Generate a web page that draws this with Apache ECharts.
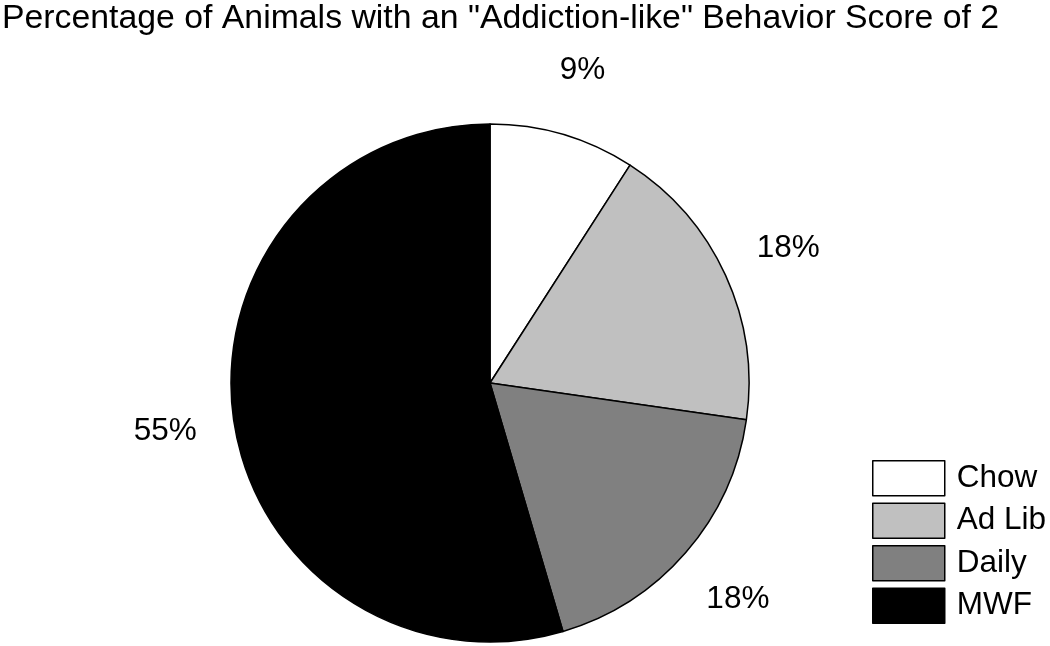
<!DOCTYPE html>
<html>
<head>
<meta charset="utf-8">
<script src="https://cdn.jsdelivr.net/npm/echarts@6/dist/echarts.min.js"></script>
<style>html,body{margin:0;padding:0;background:#fff}#chart{width:1050px;height:646px}</style>
</head>
<body>
<div id="chart"></div>
<script>
var titleText = 'Percentage of Animals with an "Addiction-like" Behavior Score of 2';
var categories = ['Chow', 'Ad Lib', 'Daily', 'MWF'];
var values = [1, 2, 2, 6];
var colors = ['#ffffff', '#c0c0c0', '#808080', '#000000'];

var FONT = '"Liberation Sans", Arial, sans-serif';
var pieData = categories.map(function (c, i) {
  return { name: c, value: values[i], itemStyle: { color: colors[i] } };
});
var labelData = categories.map(function (c, i) {
  return { name: c, value: values[i] };
});

var chart = echarts.init(document.getElementById('chart'));
chart.setOption({
  backgroundColor: '#ffffff',
  animation: false,
  title: {
    text: titleText,
    left: 0,
    top: 0,
    padding: [2, 2, 2, 2],
    textStyle: { fontFamily: FONT, fontSize: 33.8, fontWeight: 'normal', color: '#000' }
  },
  legend: {
    orient: 'vertical',
    left: 872,
    top: 460,
    padding: 0,
    itemWidth: 72,
    itemHeight: 35,
    itemGap: 6,
    icon: 'rect',
    data: categories,
    itemStyle: { borderColor: '#000', borderWidth: 1.5 },
    textStyle: { fontFamily: FONT, fontSize: 31.5, color: '#000', padding: [0, 0, 0, 7] }
  },
  series: [
    {
      type: 'pie',
      center: [490, 383],
      radius: [0, 259],
      startAngle: 90,
      clockwise: true,
      silent: true,
      data: pieData,
      itemStyle: { borderColor: '#000', borderWidth: 1.5 },
      label: { show: false },
      labelLine: { show: false },
      emphasis: { disabled: true }
    },
    {
      type: 'pie',
      center: [490, 385],
      radius: [310, 340],
      startAngle: 90,
      clockwise: true,
      silent: true,
      data: labelData,
      itemStyle: { color: 'rgba(0,0,0,0)', borderWidth: 0 },
      label: {
        show: true,
        position: 'inside',
        fontFamily: FONT,
        fontSize: 31.5,
        color: '#000',
        formatter: function (p) { return Math.round(p.percent) + '%'; }
      },
      labelLine: { show: false },
      emphasis: { disabled: true }
    }
  ]
});
</script>
</body>
</html>
